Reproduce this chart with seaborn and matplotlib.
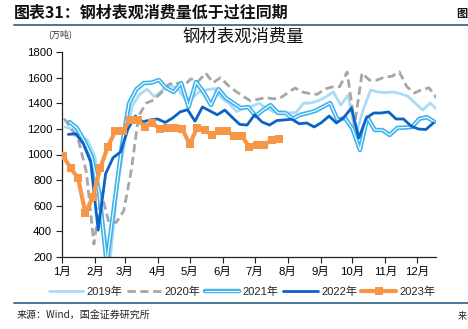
import numpy as np
import pandas as pd
import matplotlib
matplotlib.use("Agg")
import matplotlib.pyplot as plt
import matplotlib.patheffects as pe
import seaborn as sns

# ---------------- data ----------------
months = ["1月", "2月", "3月", "4月", "5月", "6月", "7月", "8月", "9月", "10月", "11月", "12月"]
yticks = [200, 400, 600, 800, 1000, 1200, 1400, 1600, 1800]

start_2019 = "2019-01-04"
v2019 = [1215, 1195, 1150, 1113, 980, 480, 150, 750, 1100, 1380,
         1470, 1510, 1450, 1500, 1540, 1520, 1440, 1440, 1490, 1505,
         1515, 1440, 1400, 1335, 1360, 1375, 1400, 1362, 1332, 1335,
         1324, 1328, 1400, 1402, 1420, 1450, 1488, 1386, 1464, 1150,
         1347, 1503, 1488, 1483, 1488, 1475, 1455, 1400, 1347, 1402, 1347]

start_2020 = "2020-01-03"
v2020 = [1280, 1200, 1095, 860, 300, 700, 470, 470, 560, 870,
         1300, 1400, 1425, 1480, 1545, 1565, 1530, 1590, 1570, 1636,
         1560, 1600, 1540, 1495, 1455, 1420, 1430, 1445, 1435, 1440,
         1480, 1519, 1488, 1475, 1470, 1511, 1527, 1530, 1644, 1230,
         1636, 1580, 1580, 1605, 1610, 1645, 1530, 1480, 1505, 1520, 1441]

start_2021 = "2021-01-08"
v2021 = [1254, 1207, 1105, 980, 700, 150, 600, 1050, 1400, 1510,
         1558, 1560, 1582, 1519, 1488, 1558, 1371, 1566, 1488, 1386,
         1511, 1441, 1402, 1363, 1371, 1300, 1347, 1386, 1324, 1324,
         1280, 1310, 1324, 1340, 1371, 1402, 1270, 1285, 1200, 1035,
         1290, 1191, 1191, 1152, 1207, 1210, 1215, 1280, 1290, 1255]

start_2022 = "2022-01-07"
v2022 = [1157, 1162, 1085, 940, 410, 850, 975, 1020, 1200, 1300,
         1255, 1270, 1277, 1250, 1285, 1332, 1350, 1260, 1371, 1340,
         1310, 1347, 1290, 1235, 1230, 1310, 1254, 1230, 1265, 1270,
         1275, 1240, 1246, 1215, 1250, 1300, 1246, 1290, 1363, 1129,
         1285, 1324, 1324, 1332, 1277, 1277, 1222, 1199, 1195, 1246]

start_2023 = "2023-01-02"
v2023 = [990, 895, 817, 543, 668, 895, 1059, 1183, 1183, 1270,
         1270, 1215, 1246, 1200, 1207, 1207, 1199, 1082, 1207, 1191,
         1152, 1183, 1183, 1144, 1144, 1059, 1074, 1074, 1113, 1121]

series = [
    ("2019年", start_2019, v2019),
    ("2020年", start_2020, v2020),
    ("2021年", start_2021, v2021),
    ("2022年", start_2022, v2022),
    ("2023年", start_2023, v2023),
]


def day_of_year(start, n):
    d = pd.date_range(start, periods=n, freq="7D")
    return (d - pd.Timestamp(year=d[0].year, month=1, day=1)).days.values


frames = []
for name, st, vals in series:
    frames.append(pd.DataFrame({"day": day_of_year(st, len(vals)), "value": vals, "year": name}))
df = pd.concat(frames, ignore_index=True)

month_pos = (pd.date_range("2019-01-01", periods=12, freq="MS") - pd.Timestamp("2019-01-01")).days.values

# ---------------- style ----------------
sns.set_theme(style="ticks")
plt.rcParams["font.family"] = ["Liberation Sans", "Noto Sans CJK SC", "DejaVu Sans"]
CJK = ["Noto Sans CJK SC", "DejaVu Sans"]

fig = plt.figure(figsize=(4.68, 3.29), dpi=100)
ax = fig.add_axes([62 / 468, 1 - 257 / 329, (436 - 62) / 468, (257 - 52) / 329])

styles = {
    "2019年": dict(color="#A9DCF6", lw=2.0),
    "2020年": dict(color="#A6A6A6", lw=2.0, linestyle=(0, (3.0, 1.6))),
    "2021年": dict(color="white", lw=0.8,
                  path_effects=[pe.Stroke(linewidth=3.2, foreground="#3DB3EE"), pe.Normal()]),
    "2022年": dict(color="#0B63C5", lw=2.0),
    "2023年": dict(color="#F79646", lw=3.0, marker="s", markersize=5.5,
                  markeredgewidth=0, zorder=6),
}

for name, _, _ in series:
    sub = df[df["year"] == name]
    sns.lineplot(data=sub, x="day", y="value", ax=ax, label=name,
                 estimator=None, sort=True, **styles[name])

handles, labels = ax.get_legend_handles_labels()
ax.get_legend().remove()

ax.set_xlim(0, 351.5)
ax.set_ylim(200, 1800)
ax.set_xticks(month_pos)
ax.set_xticklabels(months)
ax.set_yticks(yticks)
ax.set_xlabel("")
ax.set_ylabel("")
sns.despine(ax=ax)
for s in ["left", "bottom"]:
    ax.spines[s].set_color("#222222")
    ax.spines[s].set_linewidth(0.9)
ax.tick_params(axis="both", direction="out", length=4, width=0.8, color="#222222",
               labelsize=8.2, labelcolor="black")
ax.tick_params(axis="y", pad=3)
ax.tick_params(axis="x", pad=3)

fig.text(243 / 468, 1 - 37 / 329, "钢材表观消费量", ha="center", va="center",
         fontsize=12.5, family=CJK, color="#111111")
fig.text(48 / 468, 1 - 34 / 329, "(万吨)", ha="left", va="center", fontsize=6.5,
         family=CJK, color="#333333")

fig.legend(handles, labels, loc="center", bbox_to_anchor=(242 / 468, 1 - 292 / 329),
           ncol=5, frameon=False, fontsize=8, handlelength=3.1, handletextpad=0.3,
           columnspacing=0.4, borderaxespad=0, borderpad=0)

# header & footer
fig.text(14 / 468, 1 - 13 / 329, "图表31：钢材表观消费量低于过往同期", ha="left", va="center",
         fontsize=11.5, fontweight="bold", family=CJK, color="#111111")
fig.text(467 / 468, 1 - 13 / 329, "图", ha="right", va="center",
         fontsize=8, fontweight="bold", family=CJK, color="#111111")
fig.add_artist(plt.Line2D([14 / 468, 1.0], [1 - 25 / 329] * 2, color="#3B6A8C", lw=1.3))
fig.add_artist(plt.Line2D([14 / 468, 1.0], [1 - 303 / 329] * 2, color="#3B6A8C", lw=1.3))
fig.text(17 / 468, 1 - 316 / 329, "来源：Wind，国金证券研究所", ha="left", va="center",
         fontsize=7.2, family=CJK, color="#222222")
fig.text(467 / 468, 1 - 316 / 329, "来", ha="right", va="center",
         fontsize=6.5, family=CJK, color="#222222")

fig.savefig("out.png", dpi=100)
